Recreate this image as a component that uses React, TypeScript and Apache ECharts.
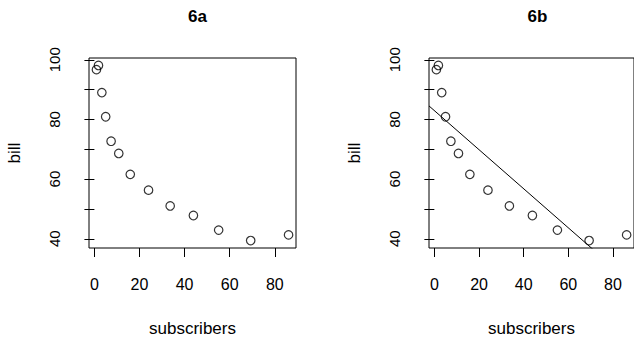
import React, { useEffect, useRef } from "react";
import * as echarts from "echarts";

const subscribers = [0.9, 1.8, 3.3, 5.0, 7.4, 10.8, 15.9, 24.0, 33.6, 43.9, 55.1, 69.3, 86.1];
const bill = [96.7, 98.1, 89.0, 80.9, 72.7, 68.6, 61.6, 56.3, 51.0, 47.8, 42.9, 39.4, 41.3];
const xTicks = [0, 20, 40, 60, 80];
const yTicks = [40, 50, 60, 70, 80, 90, 100];
const yLabels = [40, 60, 80, 100];
const panelTitles = ["6a", "6b"];
const fitIntercept = 82.96;
const fitSlope = -0.655;
const xRange = [-2.4, 89.4];
const yRange = [36.9, 100.6];

const FONT = "'Liberation Sans', Arial, Helvetica, sans-serif";

export default function App() {
  const ref = useRef<HTMLDivElement>(null);
  useEffect(() => {
    if (!ref.current) return;
    const chart = echarts.init(ref.current, undefined, { renderer: "svg" });
    const pts = subscribers.map((x, i) => [x, bill[i]]);
    const gridLefts = [89, 429];
    const gridW = 207;
    const grids = gridLefts.map((l) => ({
      left: l,
      top: 58,
      width: gridW,
      height: 194,
      show: true,
      borderColor: "#000",
      borderWidth: 1,
      backgroundColor: "transparent",
    }));
    const xAxes = gridLefts.map((_, i) => ({
      type: "value",
      gridIndex: i,
      min: xRange[0],
      max: xRange[1],
      splitLine: { show: false },
      axisLine: { show: false },
      axisTick: { show: true, length: 9, customValues: xTicks, lineStyle: { color: "#000" } },
      axisLabel: {
        customValues: xTicks,
        color: "#000",
        fontFamily: FONT,
        fontSize: 16,
        margin: 28,
      },
      name: "subscribers",
      nameLocation: "middle",
      nameGap: 72,
      nameTextStyle: { color: "#000", fontFamily: FONT, fontSize: 17 },
    }));
    const yAxes = gridLefts.map((_, i) => ({
      type: "value",
      gridIndex: i,
      min: yRange[0],
      max: yRange[1],
      splitLine: { show: false },
      axisLine: { show: false },
      axisTick: { show: true, length: 10, customValues: yTicks, lineStyle: { color: "#000" } },
      axisLabel: {
        customValues: yLabels,
        rotate: 90,
        color: "#000",
        fontFamily: FONT,
        fontSize: 15,
        margin: 27,
      },
      name: "bill",
      nameLocation: "middle",
      nameGap: 66,
      nameTextStyle: { color: "#000", fontFamily: FONT, fontSize: 17 },
    }));
    const scatterSeries = gridLefts.map((_, i) => ({
      type: "scatter",
      xAxisIndex: i,
      yAxisIndex: i,
      data: pts,
      symbol: "circle",
      symbolSize: 8.5,
      itemStyle: { color: "transparent", borderColor: "#000", borderWidth: 1.2 },
      silent: true,
    }));
    const lineSeries = {
      type: "line",
      xAxisIndex: 1,
      yAxisIndex: 1,
      data: [
        [xRange[0], fitIntercept + fitSlope * xRange[0]],
        [xRange[1], fitIntercept + fitSlope * xRange[1]],
      ],
      showSymbol: false,
      symbol: "none",
      clip: true,
      lineStyle: { color: "#000", width: 1 },
      silent: true,
    };
    chart.setOption({
      animation: false,
      backgroundColor: "#fff",
      title: panelTitles.map((t, i) => ({
        text: t,
        left: gridLefts[i] + gridW / 2,
        textAlign: "center",
        top: 3,
        textStyle: { color: "#000", fontFamily: FONT, fontSize: 17, fontWeight: "bold" },
      })),
      grid: grids,
      xAxis: xAxes,
      yAxis: yAxes,
      series: [...scatterSeries, lineSeries],
    });
    return () => chart.dispose();
  }, []);
  return (
    <div
      ref={ref}
      style={{ position: "absolute", left: 0, top: 0, width: 634, height: 342 }}
    />
  );
}
